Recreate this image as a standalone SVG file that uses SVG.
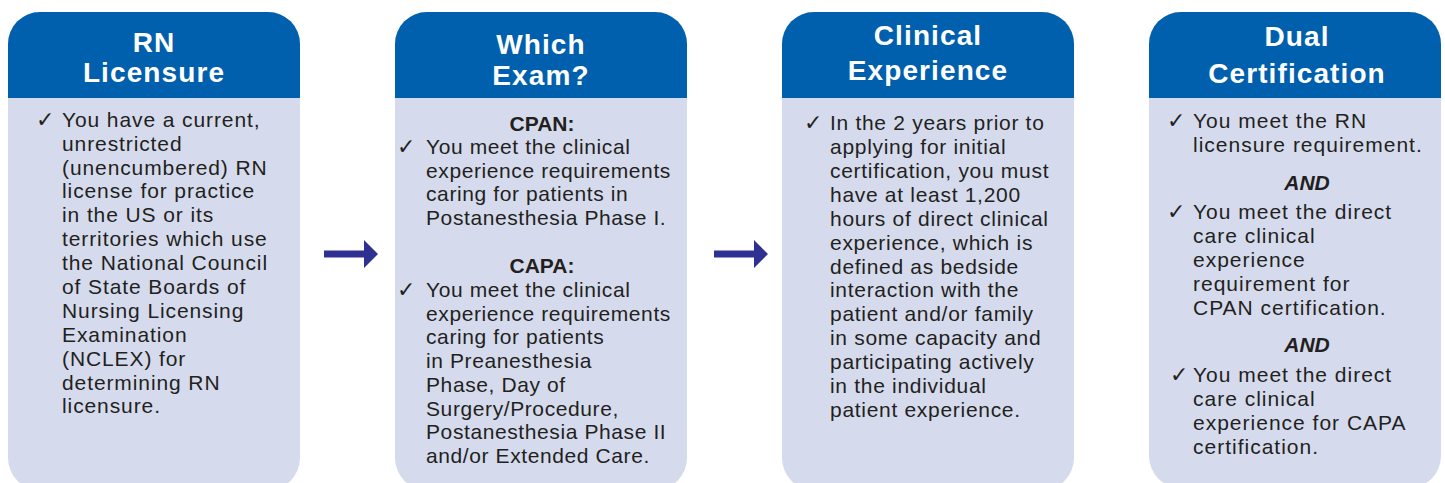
<svg xmlns="http://www.w3.org/2000/svg" width="1445" height="483" viewBox="0 0 1445 483">
<style>
.body{fill:#D5DBED}
.head{fill:#0060AD}
.ht{font-family:"Liberation Sans",Arial,sans-serif;font-weight:bold;font-size:28px;fill:#FFFFFF;text-anchor:middle;letter-spacing:1.1px}
.t{font-family:"Liberation Sans",Arial,sans-serif;font-size:21px;fill:#231F20}
.ck{font-family:"DejaVu Sans",sans-serif;font-size:22px;fill:#231F20}
.sub{font-family:"Liberation Sans",Arial,sans-serif;font-weight:bold;font-size:21px;fill:#231F20;text-anchor:middle}
.and{font-family:"Liberation Sans",Arial,sans-serif;font-weight:bold;font-style:italic;font-size:21px;fill:#231F20;text-anchor:middle}
.c1{letter-spacing:0.9px}
.c2{letter-spacing:0.6px}
.c3{letter-spacing:0.7px}
.c4{letter-spacing:1px}
.arrow{fill:#2E3192}
</style>
<rect width="1445" height="483" fill="#FFFFFF"/>

<g id="node-rn-licensure">
<rect class="body" x="8" y="12" width="292" height="478" rx="32"/>
<path class="head" d="M8,98 V44 A32,32 0 0 1 40,12 H268 A32,32 0 0 1 300,44 V98 Z"/>
<text class="ht" x="154" y="52">RN</text>
<text class="ht" x="154" y="82">Licensure</text>
<text class="ck" x="36" y="127">✓</text>
<text class="t c1" x="62">
<tspan x="62" y="127">You have a current,</tspan>
<tspan x="62" y="151">unrestricted</tspan>
<tspan x="62" y="175">(unencumbered) RN</tspan>
<tspan x="62" y="198">license for practice</tspan>
<tspan x="62" y="222">in the US or its</tspan>
<tspan x="62" y="246">territories which use</tspan>
<tspan x="62" y="270">the National Council</tspan>
<tspan x="62" y="294">of State Boards of</tspan>
<tspan x="62" y="318">Nursing Licensing</tspan>
<tspan x="62" y="342">Examination</tspan>
<tspan x="62" y="366">(NCLEX) for</tspan>
<tspan x="62" y="390">determining RN</tspan>
<tspan x="62" y="413">licensure.</tspan>
</text>
</g>

<g id="node-which-exam">
<rect class="body" x="395" y="12" width="292" height="478" rx="32"/>
<path class="head" d="M395,98 V44 A32,32 0 0 1 427,12 H655 A32,32 0 0 1 687,44 V98 Z"/>
<text class="ht" x="541" y="54">Which</text>
<text class="ht" x="541" y="85">Exam?</text>
<text class="sub" x="542" y="131">CPAN:</text>
<text class="ck" x="397" y="154">✓</text>
<text class="t c2">
<tspan x="426" y="154">You meet the clinical</tspan>
<tspan x="426" y="177.5">experience requirements</tspan>
<tspan x="426" y="201">caring for patients in</tspan>
<tspan x="426" y="225">Postanesthesia Phase I.</tspan>
</text>
<text class="sub" x="542" y="273">CAPA:</text>
<text class="ck" x="397" y="297">✓</text>
<text class="t c2">
<tspan x="426" y="297">You meet the clinical</tspan>
<tspan x="426" y="320.5">experience requirements</tspan>
<tspan x="426" y="344">caring for patients</tspan>
<tspan x="426" y="368">in Preanesthesia</tspan>
<tspan x="426" y="392">Phase, Day of</tspan>
<tspan x="426" y="415.5">Surgery/Procedure,</tspan>
<tspan x="426" y="439">Postanesthesia Phase II</tspan>
<tspan x="426" y="463">and/or Extended Care.</tspan>
</text>
</g>

<g id="node-clinical-experience">
<rect class="body" x="782" y="12" width="292" height="478" rx="32"/>
<path class="head" d="M782,98 V44 A32,32 0 0 1 814,12 H1042 A32,32 0 0 1 1074,44 V98 Z"/>
<text class="ht" x="928" y="45">Clinical</text>
<text class="ht" x="928" y="80">Experience</text>
<text class="ck" x="804" y="130">✓</text>
<text class="t c3">
<tspan x="830" y="130">In the 2 years prior to</tspan>
<tspan x="830" y="154">applying for initial</tspan>
<tspan x="830" y="178">certification, you must</tspan>
<tspan x="830" y="202">have at least 1,200</tspan>
<tspan x="830" y="226">hours of direct clinical</tspan>
<tspan x="830" y="250">experience, which is</tspan>
<tspan x="830" y="274">defined as bedside</tspan>
<tspan x="830" y="297">interaction with the</tspan>
<tspan x="830" y="321">patient and/or family</tspan>
<tspan x="830" y="345">in some capacity and</tspan>
<tspan x="830" y="369">participating actively</tspan>
<tspan x="830" y="393">in the individual</tspan>
<tspan x="830" y="417">patient experience.</tspan>
</text>
</g>

<g id="node-dual-certification">
<rect class="body" x="1149" y="12" width="292" height="476" rx="32"/>
<path class="head" d="M1149,98 V44 A32,32 0 0 1 1181,12 H1409 A32,32 0 0 1 1441,44 V98 Z"/>
<text class="ht" x="1297" y="46">Dual</text>
<text class="ht" x="1297" y="83">Certification</text>
<text class="ck" x="1167" y="128">✓</text>
<text class="t c4">
<tspan x="1193" y="128">You meet the RN</tspan>
<tspan x="1193" y="152">licensure requirement.</tspan>
</text>
<text class="and" x="1307" y="190">AND</text>
<text class="ck" x="1167" y="219">✓</text>
<text class="t c4">
<tspan x="1193" y="219">You meet the direct</tspan>
<tspan x="1193" y="243">care clinical</tspan>
<tspan x="1193" y="267">experience</tspan>
<tspan x="1193" y="291">requirement for</tspan>
<tspan x="1193" y="315">CPAN certification.</tspan>
</text>
<text class="and" x="1307" y="352">AND</text>
<text class="ck" x="1170" y="382">✓</text>
<text class="t c4">
<tspan x="1193" y="382">You meet the direct</tspan>
<tspan x="1193" y="406">care clinical</tspan>
<tspan x="1193" y="430">experience for CAPA</tspan>
<tspan x="1193" y="454">certification.</tspan>
</text>
</g>

<g id="connectors">
<path class="arrow" d="M324,250.5 H364 V240 L378,254 L364,268 V257.5 H324 Z"/>
<path class="arrow" d="M714,250.5 H754 V240 L768,254 L754,268 V257.5 H714 Z"/>
</g>
</svg>
